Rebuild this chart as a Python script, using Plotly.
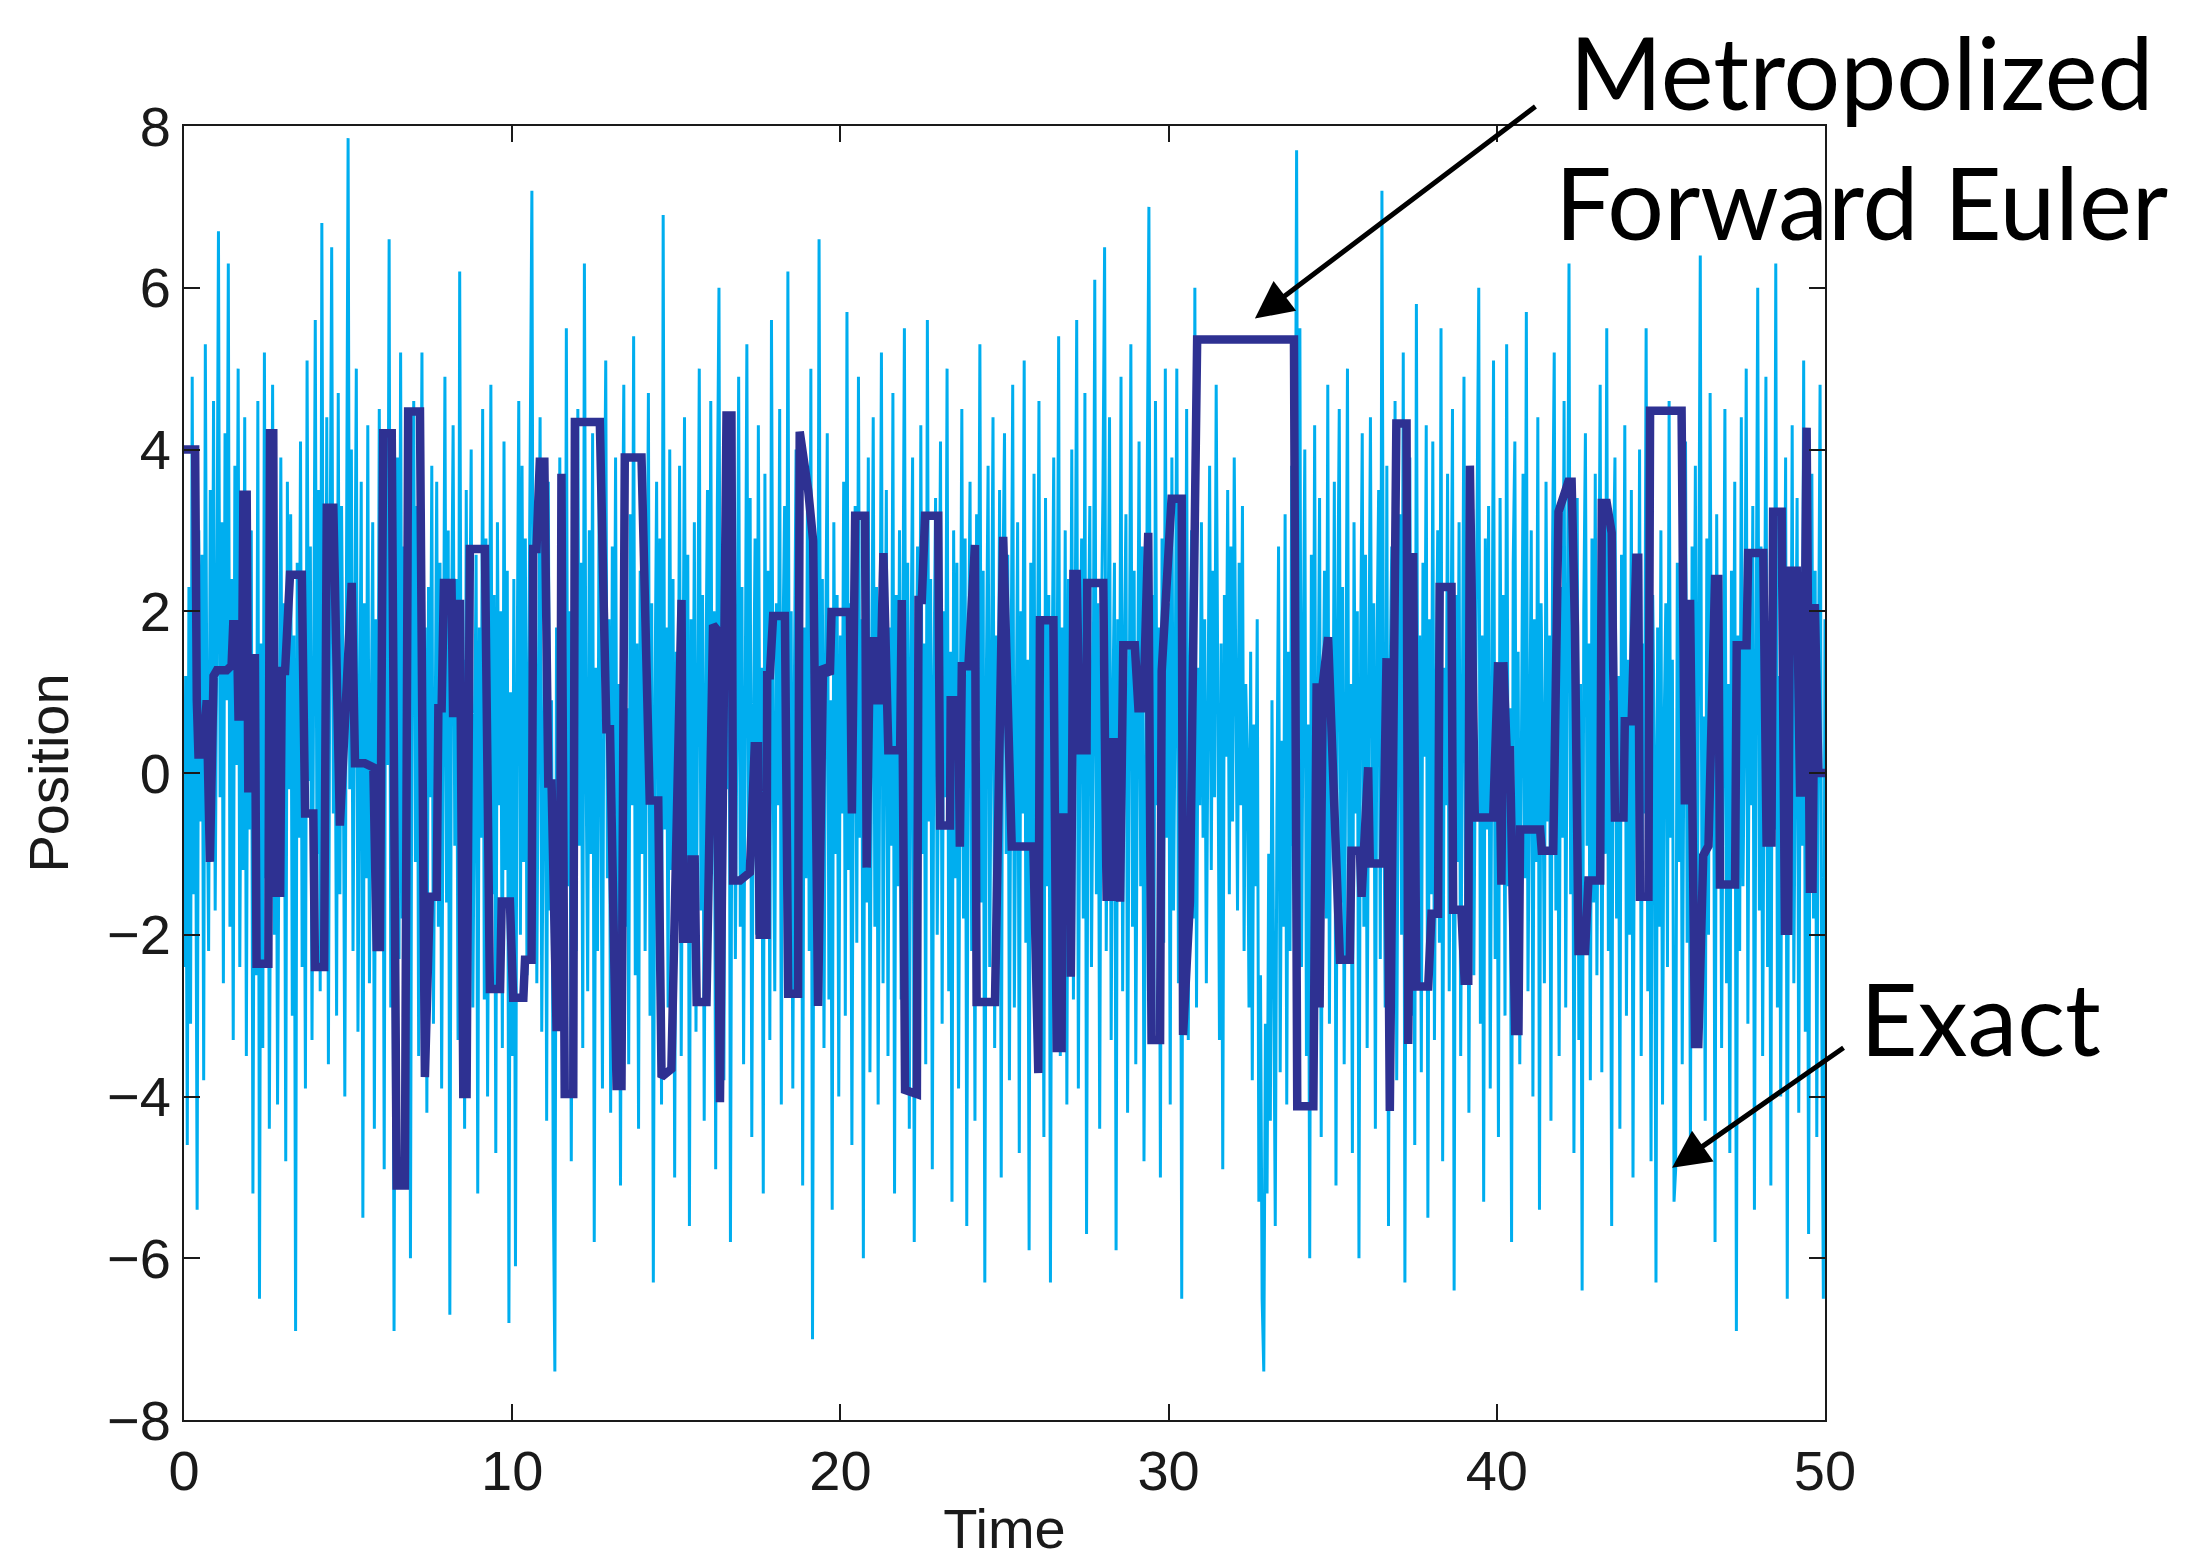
import numpy as np
import plotly.graph_objects as go

# ---------------- data ----------------
# "Exact" trajectory, sampled every 0.05 time units (values read/estimated from the picture)
exact_x = [
    -2.4, 1.2, -4.6, 2.3, -3.1, 4.9, -1.5, 0.8, -5.4, 3.0, -0.6, 2.7, -3.8, 5.3, 0.4, -2.2, 3.5, -0.9, 4.6, -1.7,
    1.8, 6.7, -0.3, 3.1, -2.6, 4.2, 0.9, 6.3, -1.9, 2.4, -3.3, 3.8, 0.1, 5.0, -2.4, 1.7, -1.2, 4.4, -3.5, 2.6,
    -0.7, 3.0, -5.2, 1.1, -2.5, 4.6, -6.5, 1.6, -3.4, 5.2, -1.3, 3.3, -4.4, 0.5, 4.8, -2.0, 2.2, -4.1, 0.9, 3.9,
    -1.4, 2.1, -4.8, 3.6, -0.2, 3.2, -3.0, 1.7, -6.9, 2.6, -0.8, 4.1, -2.4, 1.0, -3.9, 5.1, -0.1, 2.8, -3.3, 1.9,
    5.6, -1.0, 3.5, -2.7, 6.8, 0.3, -2.1, 4.4, -3.6, 2.5, 6.5, -0.5, 1.6, -3.0, 4.7, -1.5, 3.3, 0.7, -4.0, 2.4,
    7.85, -0.2, 4.0, -2.2, 1.3, 5.0, -3.2, 0.9, 3.6, -5.5, 2.1, -1.3, 4.3, -2.6, 0.5, 3.1, -4.4, 1.9, -1.6, 4.5,
    -0.7, 2.6, -4.9, 3.7, 0.1, 6.6, -2.9, 1.5, -6.9, 1.0, 3.9, -2.3, 5.2, -1.8, 2.8, -4.6, 0.4, 2.9, -6.0, 2.0,
    4.6, -1.1, 3.3, -3.5, 1.3, 5.2, -2.1, 1.8, -4.2, 2.3, -0.3, 3.8, -3.1, 0.8, 3.6, -1.9, 2.6, -3.9, 0.3, 4.9,
    -1.6, 3.0, -6.7, 1.6, 4.3, -0.9, 2.4, -3.3, 6.2, -0.6, 1.4, -4.4, 3.5, -2.3, 1.2, 4.0, -2.9, 0.5, 2.7, -5.2,
    1.8, -0.8, 4.5, -2.8, 2.9, -4.0, 0.7, 4.8, -1.5, 2.2, -4.7, 3.1, -0.4, 2.0, -3.4, 4.1, -1.2, 2.5, -6.8, 1.0,
    -3.5, 2.4, -6.1, 1.2, 4.6, -2.0, 3.8, -1.1, 2.9, -2.5, 1.0, 4.0, 7.2, -0.8, 3.0, -2.6, 1.5, 4.4, -3.2, 0.6,
    2.8, -4.3, 3.6, -1.7, 0.9, -5.0, -7.4, 1.8, -3.1, 3.9, -0.6, 2.4, -3.7, 5.5, -1.4, 2.0, -4.8, 0.7, 3.3, -2.2,
    4.5, -0.9, 2.6, -3.4, 6.3, 0.2, -2.7, 3.0, -1.0, 4.2, -5.8, 1.3, -2.2, 3.7, 0.6, -3.9, 2.3, 5.1, -1.3, 1.9,
    -4.2, 2.8, -0.5, 3.9, -2.8, 1.1, -5.1, 2.0, 4.8, -1.9, 0.8, -3.6, 3.2, -0.4, 5.4, -2.5, 1.6, -4.4, 2.5, -1.0,
    3.4, -2.2, 1.0, 4.7, -3.0, 2.1, -6.3, 0.9, 3.6, -1.6, 2.9, -4.1, 6.9, -0.7, 1.8, -2.9, 4.0, -1.2, 2.4, -5.0,
    1.5, -0.3, 3.8, -3.5, 0.6, 4.4, -2.0, 2.7, -5.6, 1.9, -1.1, 3.1, -3.2, 0.4, 5.0, -1.7, 2.2, -4.3, 1.1, 3.5,
    -2.4, 4.6, -0.8, 2.0, -4.9, 3.3, 6.0, -1.5, 1.4, -3.8, 2.6, -0.2, 4.1, -5.8, 1.0, 3.0, -2.3, 0.8, 4.9, -1.9,
    2.3, -3.6, 1.7, 5.3, -1.2, 3.4, -4.5, 0.5, 2.9, -2.0, 4.3, -0.7, 1.3, -5.2, 3.7, -1.5, 2.5, -3.3, 5.6, 0.1,
    -2.7, 2.1, -0.4, 4.5, -4.1, 1.6, 3.3, -1.8, 6.2, -0.9, 2.0, -3.9, 1.2, 4.0, -2.5, 0.3, 3.6, -5.1, 1.8, -1.3,
    3.8, -2.2, 5.0, -7.0, 0.6, 2.9, -1.4, 6.6, -0.6, 2.4, -3.4, 1.5, 4.2, -2.8, 0.9, -5.4, 3.1, -1.0, 2.2, -4.0,
    1.7, -0.5, 3.6, -3.0, 5.7, -1.2, 2.1, -4.6, 0.8, 3.3, -2.1, 4.9, -0.8, 1.9, -6.0, 2.7, -1.6, 3.9, -3.7, 0.5,
    4.4, -1.9, 2.3, -4.1, 1.0, 5.2, -2.6, 0.4, 3.5, -3.5, 1.8, -0.9, 4.7, -5.2, 2.2, -1.4, 3.0, -2.8, 0.9, 5.5,
    -1.1, 2.6, -4.4, 1.4, 3.9, -5.8, 0.2, 2.8, -2.3, 4.3, -1.0, 1.6, -3.6, 5.6, -0.6, 2.4, -4.9, 1.2, 3.4, -2.0,
    0.8, 4.1, -3.1, 2.0, -0.3, 5.0, -2.7, 1.5, -5.3, 3.0, -1.3, 2.6, -3.9, 0.6, 4.5, -1.8, 2.9, -5.6, 1.1, 3.6,
    -2.2, 1.9, -4.3, 3.2, 0.4, 5.3, -1.6, 2.5, -6.3, 1.3, 3.8, -2.4, 0.7, 4.4, -3.4, 1.7, -0.8, 3.5, -5.0, 2.3,
    4.2, -1.0, 2.7, -3.8, 1.1, 4.8, -2.9, 0.3, 3.1, -4.7, 2.0, -0.5, 5.1, -2.1, 1.4, -5.9, 2.6, -1.2, 3.7, -3.0,
    1.6, 4.6, -2.5, 0.9, -4.5, 3.4, -1.4, 2.2, -6.3, 1.0, 3.9, -2.0, 0.6, 5.4, -3.5, 1.8, -1.1, 3.0, -4.1, 2.4,
    -0.7, 4.0, -2.8, 1.5, 5.6, -3.9, 0.8, 2.9, -1.8, 4.7, -5.7, 1.2, 3.3, -2.4, 0.4, 6.1, -1.5, 2.1, -4.4, 1.7,
    3.5, 6.5, -2.2, 1.1, 4.4, -3.3, 0.7, 2.6, -5.9, 1.9, -0.6, 4.9, -2.7, 1.4, 3.2, -4.2, 0.9, 5.3, -1.9, 2.5,
    -3.6, 1.3, 4.1, -1.4, 2.8, -4.8, 0.6, 3.7, 7.0, -1.1, 2.2, -3.2, 4.6, -0.4, 1.8, -5.0, 2.9, -2.1, 5.0, -0.8,
    2.1, -4.1, 3.9, -1.7, 0.9, 5.0, -2.6, 1.6, -6.5, 2.4, -0.9, 4.5, -3.3, 1.0, 3.0, -1.8, 6.0, -2.9, 1.3, -0.4,
    3.1, -0.8, 1.9, -2.6, 0.7, 3.8, -1.2, 2.5, -0.3, 4.8, 0.9, -3.3, 1.6, -4.9, 2.2, 0.2, 3.5, -1.5, 2.8, -0.6,
    3.9, 0.8, -1.7, 2.6, -0.4, 3.3, -2.2, 1.1, 0.2, -2.9, 1.5, -3.8, 0.6, -1.4, 1.9, -5.3, -2.5, -6.5, -7.4, -3.1,
    -5.2, -1.0, -4.3, 0.9, -2.6, -5.6, -0.5, 2.8, -3.7, 0.4, -1.9, 3.2, -4.1, 1.5, -2.2, 3.8, -0.9, 1.8, 7.7, -0.3,
    5.5, -2.4, 1.2, 4.0, -3.5, 0.6, -6.0, 2.7, -1.3, 4.3, -2.8, 1.0, 3.4, -4.5, 0.3, 2.5, -1.8, 4.8, -3.1, 1.4,
    -0.6, 3.6, -5.1, 1.8, 4.5, -1.6, 2.3, -3.6, 0.8, 5.0, -2.2, 1.1, -4.7, 3.1, -0.5, 2.0, -6.0, 1.5, 4.2, -1.9,
    2.7, -3.4, 0.9, 4.4, -1.0, 2.1, -4.4, 1.6, 3.5, -2.3, 7.2, 0.5, -2.9, 3.8, -5.6, 1.2, 2.8, -1.4, 4.6, -3.8,
    0.7, 3.2, -2.0, 5.2, -6.3, 1.4, -0.8, 3.9, -3.0, 2.0, -4.6, 5.8, -1.2, 1.7, -3.7, 2.6, 0.2, 4.3, -5.5, 1.9,
    -1.5, 4.1, -3.3, 0.8, 3.0, -2.1, 5.5, -4.8, 1.3, -0.4, 3.7, -2.7, 1.0, 4.5, -6.4, 2.2, -1.1, 3.1, -3.5, 0.5,
    4.9, -1.9, 2.4, -4.2, 1.1, 3.6, -2.5, 0.6, 4.0, 6.0, -3.1, 1.7, -5.3, 2.9, -0.7, 3.3, -3.9, 1.2, 5.1, -2.3,
    1.0, -4.5, 3.4, -0.9, 2.2, -3.0, 5.3, -1.4, 0.8, -5.8, 2.6, 4.1, -2.2, 1.5, -3.6, 0.3, 3.7, -1.3, 5.7, -2.7,
    0.9, 3.0, -4.0, 1.9, -1.1, 4.4, -5.4, 2.1, 0.4, -2.6, 3.6, -0.6, 1.7, -4.3, 2.8, 5.2, -1.7, 0.6, -3.5, 2.3,
    -0.8, 4.6, -2.9, 1.3, 6.3, -1.5, 2.5, -4.7, 0.7, 3.4, -3.3, 1.1, -6.4, 2.0, 4.2, -0.9, 1.6, -3.8, 2.9, -1.6,
    3.7, -2.5, 0.5, 4.8, -3.7, 1.8, -1.0, 5.5, -2.2, 0.9, -5.6, 2.4, 3.9, -1.8, 1.2, -4.4, 2.7, -0.3, 4.3, -3.0,
    1.4, -2.0, 3.5, -5.0, 0.8, 2.6, -1.3, 4.0, -3.5, 1.6, -0.5, 5.5, -2.7, 1.0, -4.8, 2.2, 0.3, -6.3, 1.8, -1.9,
    3.0, -4.1, 0.6, 2.1, -2.4, 4.6, -0.8, 1.4, -5.3, -4.9, 2.6, -1.1, 3.3, -3.6, 0.4, 4.1, -2.1, 1.2, -4.6, 2.8,
    -0.3, 3.8, -3.0, 1.5, 6.4, -1.6, 0.7, -4.3, 2.9, -2.0, 4.7, -0.6, 1.9, -5.8, 3.2, -1.2, 2.3, -3.4, 0.9, 4.5,
    -2.6, 1.1, -4.7, 2.5, -0.9, 3.6, -6.9, 1.7, -2.2, 4.4, -1.4, 0.5, 5.0, -3.1, 2.0, -0.4, 3.3, -5.4, 1.3, 6.0,
    -1.7, 2.8, -3.5, 0.6, 4.9, -2.4, 1.5, -5.1, 3.1, -0.7, 6.3, -2.9, 1.2, -4.0, 2.4, 0.1, 3.9, -6.5, 1.8, -1.1,
    4.3, -2.6, 0.8, 3.4, -4.2, 1.6, -0.9, 5.1, -3.2, 2.1, -5.7, 0.9, 3.7, -1.8, 2.5, -4.5, 1.0, 4.8, -2.9, -6.5,
    1.9,
]
exact_t_end = 50

# Metropolized Forward Euler trajectory (time, position) vertices
metro_t = [
    0.0, 0.34, 0.39, 0.44, 0.59, 0.69, 0.79, 0.90, 1.0, 1.30, 1.45, 1.50, 1.61, 1.66, 1.76, 1.81, 1.91, 1.96,
    2.01, 2.16, 2.21, 2.57, 2.62, 2.72, 2.77, 2.93, 2.98, 3.08, 3.23, 3.59, 3.69, 3.94, 3.99, 4.27, 4.35, 4.55,
    4.75, 5.11, 5.21, 5.51, 5.77, 5.87, 5.97, 6.07, 6.33, 6.48, 6.73, 6.83, 7.19, 7.34, 7.49, 7.70, 7.75, 7.85,
    7.92, 8.15, 8.20, 8.25, 8.41, 8.51, 8.61, 8.71, 9.17, 9.32, 9.63, 9.68, 9.93,
    10.03, 10.34, 10.39, 10.59, 10.64, 10.74, 10.84, 10.98, 11.10, 11.20, 11.35, 11.45, 11.50, 11.60, 11.86,
    11.91, 12.67, 12.87, 12.98, 13.18, 13.33, 13.43, 13.94, 14.19, 14.45, 14.55, 14.85, 15.16, 15.21, 15.41,
    15.46, 15.56, 15.62, 15.92, 16.02, 16.12, 16.22, 16.33, 16.53, 16.68, 16.73, 16.94, 17.24, 17.39, 17.49,
    17.54, 17.75, 17.77, 17.85, 17.95, 18.31, 18.41, 18.71, 18.76, 19.02, 19.17, 19.32, 19.47, 19.68, 19.73, 20.29,
    20.35, 20.45, 20.75, 20.80, 20.90, 21.05, 21.10, 21.21, 21.31, 21.46, 21.82, 21.87, 21.97, 22.33, 22.38,
    22.48, 22.58, 22.98, 23.04, 23.34, 23.36, 23.59, 23.64, 23.70, 23.90, 24.10, 24.15, 24.71, 24.96, 25.22,
    25.88, 26.03, 26.08, 26.49, 26.59, 26.74, 26.76, 26.99, 27.02, 27.10, 27.20, 27.30, 27.50, 27.52, 28.01,
    28.11, 28.26, 28.28, 28.42, 28.52, 28.62, 28.97, 29.08, 29.23, 29.38, 29.48, 29.74, 29.79, 29.94, 30.09, 30.40,
    30.44, 30.65, 30.87, 33.82, 33.92, 34.41, 34.51, 34.60, 34.70, 34.86, 35.07, 35.22, 35.52, 35.57, 35.83,
    35.88, 36.08, 36.13, 36.54, 36.64, 36.74, 36.94, 37.25, 37.30, 37.45, 37.55, 37.91, 38.01, 38.21, 38.26,
    38.62, 38.67, 38.92, 39.02, 39.13, 39.18, 39.33, 39.89, 40.04, 40.14,
    40.20, 40.30, 40.40, 40.56, 40.66, 40.71, 41.32, 41.37, 41.72, 41.88, 42.18, 42.28, 42.38, 42.49, 42.69,
    42.79, 43.15, 43.20, 43.35, 43.50, 43.60, 43.86, 43.90, 44.11, 44.25, 44.31, 44.36, 44.62, 44.67, 45.63,
    45.73, 45.80, 45.89, 46.04, 46.14, 46.29, 46.45, 46.65, 46.75, 46.80, 47.26, 47.31, 47.61, 47.66, 48.12,
    48.22, 48.37, 48.42, 48.68, 48.78, 48.88, 48.93, 49.14, 49.24, 49.34, 49.44, 49.54, 49.62, 49.69, 49.80, 50.0,
]
metro_x = [
    4.0, 4.0, 0.9, 0.23, 0.23, 0.9, -1.1, 1.2, 1.27, 1.27, 1.33, 1.84, 1.84, 0.7, 0.7, 3.44, 3.44, -0.24,
    1.42, 1.42, -2.36, -2.36, 4.2, 4.2, -1.48, -1.48, 1.26, 1.26, 2.45, 2.45, -0.5, -0.5, -2.4, -2.4, 3.28, 3.28,
    -0.65, 2.35, 0.12, 0.12, 0.07, -2.15, -2.15, 4.2, 4.2, -5.1, -5.1, 4.47, 4.47, -3.76, -1.53, -1.53, 0.8, 0.8,
    2.35, 2.35, 0.69, 2.09, 2.09, -3.97, -3.97, 2.77, 2.77, -2.67, -2.67, -1.59, -1.59,
    -2.78, -2.78, -2.31, -2.31, 2.77, 2.77, 3.85, 3.85, -0.13, -0.13, -3.14, -3.14, 3.7, -3.97, -3.97,
    4.34, 4.34, 0.54, 0.54, -3.87, -3.87, 3.9, 3.9, -0.34, -0.34, -3.76, -3.66, 2.14, -2.05, -2.05,
    -1.07, -1.07, -2.83, -2.83, -0.65, 1.83, 1.78, -4.07, 4.42, 4.42, -1.33, -1.33, -1.23, 0.33, 0.33,
    -2.0, -2.0, 1.21, 1.21, 1.94, 1.94, -2.73, -2.73, 4.22, 3.49, 2.87, -2.88, 1.32, 1.22, 1.99, 1.99,
    -0.5, 3.18, 3.18, -1.17, 1.63, 1.63, 0.9, 0.9, 2.72, 0.28, 0.28, 2.14, -3.92, -3.97, 2.14,
    2.14, 3.18, 3.18, -0.65, -0.65, 0.9, 0.9, -0.91, 1.32, 1.32, 2.82, -2.83, -2.83, 2.92, -0.91,
    -0.91, -3.71, 1.89, 1.89, -3.4, -3.4, -0.55, -0.55, -2.52, 2.46, 2.46, 0.28, 0.28, 2.35, 2.35,
    -1.53, -1.53, 0.38, 0.38, -1.59, 1.58, 1.58, 0.8, 0.8, 2.97, -3.3, -3.3, 1.26, 2.56, 3.39, 3.39,
    -3.24, -1.59, 5.36, 5.36, -4.12, -4.12, 1.11, -2.9, 1.11, 1.68, -0.91, -2.31, -2.31, -0.96, -0.96,
    -1.53, 0.07, -1.12, -1.12, 1.42, -4.18, 4.32, 4.32, -3.35, 2.72, -2.64, -2.64, -1.74, -1.74, 2.3,
    2.3, -1.69, -1.69, -2.57, -2.57, 3.8, -0.55, -0.55, 1.37, -1.38,
    1.37, 0.28, 0.28, -3.19, -3.19, -0.7, -0.7, -0.96, -0.96, 3.23, 3.6, 3.6, 1.83, -2.2, -2.2,
    -1.33, -1.33, 3.34, 3.34, 2.97, -0.55, -0.55, 0.64, 0.64, 2.66, 2.66, -1.53, -1.53, 4.48, 4.48,
    -0.39, 2.09, 2.09, -3.35, -3.35, -1.02, -0.9, 2.4, 2.4, -1.38, -1.38, 1.58, 1.58, 2.72, 2.72,
    -0.86, -0.86, 3.23, 3.23, -1.95, -1.95, 2.5, 2.5, -0.24, -0.24, 4.27, -1.43, -1.43, 2.09, 0.0, 0.0,
]

x_ticks = [0, 10, 20, 30, 40, 50]
y_ticks = [-8, -6, -4, -2, 0, 2, 4, 6, 8]
x_title = "Time"
y_title = "Position"
label_metro = ["Metropolized", "Forward Euler"]
label_exact = "Exact"
# where the arrows point (time, position)
arrow_metro = (32.63, 5.62)
arrow_exact = (45.34, -4.88)

# ---------------- figure ----------------
exact_t = np.linspace(0, exact_t_end, len(exact_x))
n = min(len(metro_t), len(metro_x))

fig = go.Figure()
fig.add_trace(go.Scatter(x=exact_t, y=exact_x, mode="lines",
                         line=dict(color="#00AEEF", width=3), name="Exact", hoverinfo="skip"))
fig.add_trace(go.Scatter(x=metro_t[:n], y=metro_x[:n], mode="lines",
                         line=dict(color="#2E3192", width=8.5), name="Metropolized Forward Euler",
                         hoverinfo="skip"))

OFF = 8                      # default page margin of the html body
W, H = 2200 - 2 * OFF, 1568 - 2 * OFF
L, T = 184 - OFF, 126 - OFF
pw, ph = 1641, 1294
R, B = W - L - pw, H - T - ph

def px_to_paper(page_x, page_y):
    fx, fy = page_x - OFF, page_y - OFF
    return (fx - L) / pw, (T + ph - fy) / ph

tick_font = dict(family="Liberation Sans, Arial, sans-serif", size=56, color="#1a1a1a")
axis_common = dict(showgrid=False, zeroline=False, showline=True, linecolor="#1a1a1a", linewidth=2,
                   mirror="ticks", ticks="inside", ticklen=16, tickwidth=1.5, tickcolor="#1a1a1a",
                   tickfont=tick_font)

fig.update_xaxes(range=[0, 50], tickvals=x_ticks, ticklabelstandoff=1,
                 title=dict(text=x_title, font=tick_font, standoff=8), **axis_common)
fig.update_yaxes(range=[-8, 8], tickvals=y_ticks, ticklabelstandoff=0,
                 title=dict(text=y_title, font=tick_font, standoff=20), **axis_common)

ann_font = dict(family="Lato, 'Noto Sans', sans-serif", size=100, color="black")
mx, my = px_to_paper(1861, OFF + 1)
ex, ey = px_to_paper(1980, 1017)
annotations = [
    dict(x=mx, y=my, xref="paper", yref="paper", text="<br>".join(label_metro), showarrow=False,
         font=ann_font, xanchor="center", yanchor="top", align="center"),
    dict(x=ex, y=ey, xref="paper", yref="paper", text=label_exact, showarrow=False,
         font=ann_font, xanchor="center", yanchor="middle"),
    dict(x=arrow_metro[0], y=arrow_metro[1], xref="x", yref="y", text="", showarrow=True,
         ax=282, ay=-213, arrowhead=2, arrowsize=1.5, arrowwidth=5, arrowcolor="black", standoff=0),
    dict(x=arrow_exact[0], y=arrow_exact[1], xref="x", yref="y", text="", showarrow=True,
         ax=173, ay=-121, arrowhead=2, arrowsize=1.5, arrowwidth=5, arrowcolor="black", standoff=0),
]

fig.update_layout(width=W, height=H, margin=dict(l=L, r=R, t=T, b=B, autoexpand=False),
                  paper_bgcolor="white", plot_bgcolor="white", showlegend=False,
                  annotations=annotations)

fig.write_html("out.html")
